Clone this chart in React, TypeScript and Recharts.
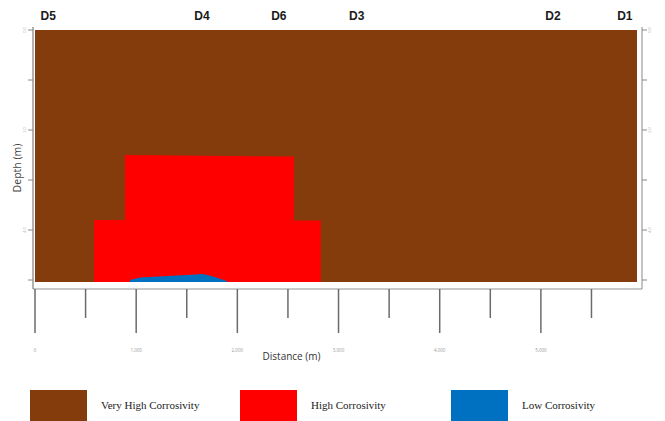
import React from "react";
import { ComposedChart, Area, XAxis, YAxis, Legend } from "recharts";

// borehole positions along the profile (m)
const boreholeNames = ["D5", "D4", "D6", "D3", "D2", "D1"];
const boreholeDistances = [130, 1650, 2410, 3180, 5120, 5830];

const distanceTicks = [0, 500, 1000, 1500, 2000, 2500, 3000, 3500, 4000, 4500, 5000, 5500];
const depthTicks = [0, 1, 2, 3, 4, 5];

// zones as [top depth, bottom depth] along distance
const veryHighZone = [
  { distance: 0, depth: [0, 5.04] },
  { distance: 5950, depth: [0, 5.04] },
];

const highZone = [
  { distance: 583, depth: [5.04, 5.04] },
  { distance: 583, depth: [3.8, 5.04] },
  { distance: 889, depth: [3.8, 5.04] },
  { distance: 889, depth: [2.5, 5.04] },
  { distance: 2560, depth: [2.53, 5.04] },
  { distance: 2560, depth: [3.81, 5.04] },
  { distance: 2824, depth: [3.81, 5.04] },
  { distance: 2824, depth: [5.04, 5.04] },
];

const lowZone = [
  { distance: 939, depth: [5.0, 5.04] },
  { distance: 1038, depth: [4.95, 5.04] },
  { distance: 1500, depth: [4.9, 5.04] },
  { distance: 1660, depth: [4.88, 5.04] },
  { distance: 1760, depth: [4.93, 5.04] },
  { distance: 1897, depth: [5.02, 5.04] },
];

const zoneNames = ["Very High Corrosivity", "High Corrosivity", "Low Corrosivity"];
const zoneColors = ["#843C0C", "#FF0000", "#0070C0"];

const LEGEND_X = [30, 240, 451];

const DistanceTick = (props: any) => {
  const { x, y, payload } = props;
  const major = payload.value % 1000 === 0;
  return (
    <g>
      <line x1={x} x2={x} y1={y} y2={y + (major ? 44 : 29)} stroke="#6b6b6b" strokeWidth={1.5} />
      {major && (
        <text x={x} y={y + 63} textAnchor="middle" fontSize={4.5} fill="#9a9a9a" fontFamily="Open Sans">
          {payload.value.toLocaleString("en-US")}
        </text>
      )}
    </g>
  );
};

const BoreholeTick = (props: any) => {
  const { x, y, payload } = props;
  const i = boreholeDistances.indexOf(payload.value);
  return (
    <text x={x} y={y - 7} textAnchor="middle" fontFamily="Liberation Sans" fontWeight="bold" fontSize={12} fill="#1a1a1a">
      {boreholeNames[i]}
    </text>
  );
};

const DepthTick = (props: any) => {
  const { x, y, payload } = props;
  if (payload.value % 2 !== 0) return <g />;
  return (
    <text
      transform={`translate(${x},${y}) rotate(-90)`}
      textAnchor="middle"
      dominantBaseline="central"
      fontSize={4}
      fill="#a8a8a8"
      fontFamily="Open Sans"
    >
      {payload.value.toFixed(1)}
    </text>
  );
};

const ZoneLegend = (props: any) => {
  const items = [...(props.payload || [])].sort(
    (a: any, b: any) => zoneNames.indexOf(a.value) - zoneNames.indexOf(b.value)
  );
  return (
    <div style={{ position: "relative", width: 665, height: 31 }}>
      {items.map((entry: any, i: number) => (
        <div key={entry.value} style={{ position: "absolute", left: LEGEND_X[i], top: 0, height: 31 }}>
          <div style={{ position: "absolute", left: 0, top: 0, width: 57, height: 31, background: entry.color }} />
          <span
            style={{
              position: "absolute",
              left: 71,
              top: 9,
              whiteSpace: "nowrap",
              fontFamily: "Liberation Serif",
              fontSize: 11,
              color: "#222",
            }}
          >
            {entry.value}
          </span>
        </div>
      ))}
    </div>
  );
};

export default function App() {
  return (
    <div style={{ position: "absolute", left: 0, top: 0, width: 665, height: 421, background: "#fff" }}>
      <ComposedChart width={665} height={421} margin={{ top: 0, right: 0, bottom: 0, left: 0 }}>
        <XAxis
          dataKey="distance"
          type="number"
          domain={[0, 5950]}
          padding={{ left: 2, right: 5 }}
          ticks={distanceTicks}
          interval={0}
          tickSize={0}
          tickMargin={0}
          tickLine={false}
          tick={<DistanceTick />}
          axisLine={{ stroke: "#c9c9c9", strokeWidth: 2 }}
          height={101}
          label={{
            value: "Distance (m)",
            position: "insideBottom",
            offset: 30,
            dx: -46,
            fontSize: 10,
            fill: "#333",
            fontFamily: "Open Sans",
          }}
        />
        <XAxis
          xAxisId="top"
          dataKey="distance"
          orientation="top"
          type="number"
          domain={[0, 5950]}
          padding={{ left: 2, right: 5 }}
          ticks={boreholeDistances}
          interval={0}
          tickSize={0}
          tickMargin={0}
          tickLine={false}
          axisLine={false}
          tick={<BoreholeTick />}
          height={27}
        />
        <YAxis
          type="number"
          reversed
          domain={[0, 5.18]}
          padding={{ top: 3, bottom: 0 }}
          ticks={depthTicks}
          interval={0}
          width={33}
          tickSize={5}
          tickMargin={4}
          tickLine={{ stroke: "#888" }}
          axisLine={{ stroke: "#666" }}
          tick={<DepthTick />}
          label={{
            value: "Depth (m)",
            content: (p: any) => {
              const vb = p.viewBox;
              return (
                <text
                  transform={`translate(${vb.x + 17},${vb.y + vb.height / 2 + 10}) rotate(-90)`}
                  textAnchor="middle"
                  dominantBaseline="central"
                  fontSize={10.5}
                  fill="#444"
                  fontFamily="Open Sans"
                >
                  Depth (m)
                </text>
              );
            },
          }}
        />
        <YAxis
          yAxisId="right"
          orientation="right"
          type="number"
          reversed
          domain={[0, 5.18]}
          padding={{ top: 3, bottom: 0 }}
          ticks={depthTicks}
          interval={0}
          width={23}
          tickSize={5}
          tickMargin={2}
          tickLine={{ stroke: "#888" }}
          axisLine={{ stroke: "#888" }}
          tick={<DepthTick />}
        />
        <Area
          data={veryHighZone}
          xAxisId="top"
          yAxisId="right"
          dataKey="depth"
          name={zoneNames[0]}
          type="linear"
          fill={zoneColors[0]}
          fillOpacity={1}
          stroke="none"
          dot={false}
          activeDot={false}
          isAnimationActive={false}
        />
        <Area
          data={highZone}
          dataKey="depth"
          name={zoneNames[1]}
          type="linear"
          fill={zoneColors[1]}
          fillOpacity={1}
          stroke="none"
          dot={false}
          activeDot={false}
          isAnimationActive={false}
        />
        <Area
          data={lowZone}
          dataKey="depth"
          name={zoneNames[2]}
          type="linear"
          fill={zoneColors[2]}
          fillOpacity={1}
          stroke="none"
          dot={false}
          activeDot={false}
          isAnimationActive={false}
        />
        <Legend
          verticalAlign="bottom"
          content={<ZoneLegend />}
          wrapperStyle={{ left: 0, bottom: 0, width: 665 }}
        />
      </ComposedChart>
    </div>
  );
}
